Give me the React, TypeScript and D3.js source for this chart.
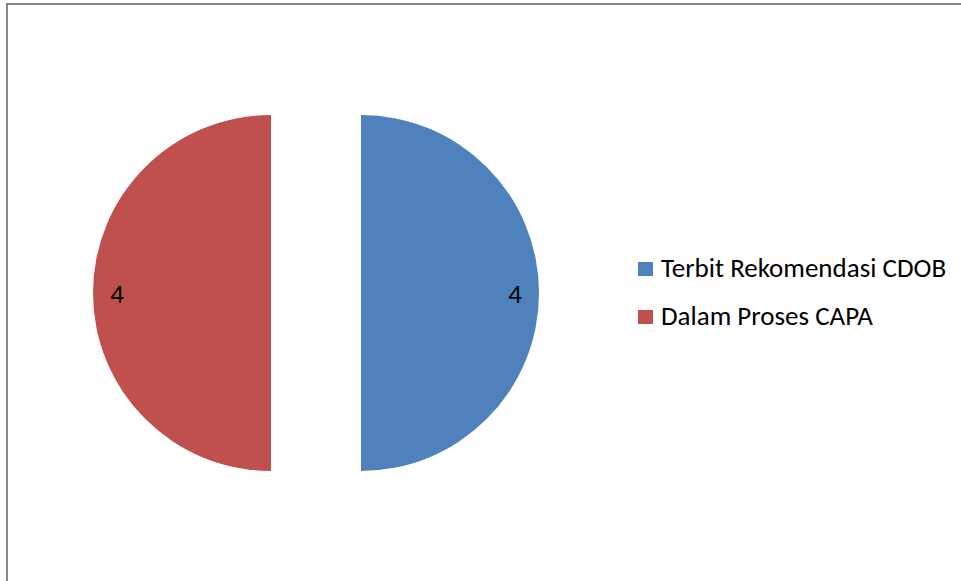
import { useEffect, useRef } from "react";
import * as d3 from "d3";

const categories = ["Terbit Rekomendasi CDOB", "Dalam Proses CAPA"];
const values = [4, 4];
const colors = ["#4F81BD", "#C0504D"];

const PieChart = () => {
  const svgRef = useRef<SVGSVGElement | null>(null);

  useEffect(() => {
    if (!svgRef.current) return;
    const svg = d3.select(svgRef.current);
    svg.selectAll("*").remove();

    const width = 961;
    const height = 581;
    const cx = 316;
    const cy = 293;
    const radius = 178;
    const explode = 45;
    const labelR = 154;
    const font = "Carlito, Lato, 'Open Sans', sans-serif";
    const fontSize = 27;

    // chart border (only left and top visible in window)
    svg
      .append("rect")
      .attr("x", 7)
      .attr("y", 4)
      .attr("width", width + 20)
      .attr("height", height + 20)
      .attr("fill", "white")
      .attr("stroke", "#868686")
      .attr("stroke-width", 2);

    const data = categories.map((c, i) => ({ name: c, value: values[i], color: colors[i] }));
    const pie = d3.pie<any>().sort(null).value((d: any) => d.value);
    const arc = d3.arc<any>().innerRadius(0).outerRadius(radius);
    const arcs = pie(data);

    const g = svg.append("g").attr("transform", `translate(${cx},${cy})`);
    arcs.forEach((a) => {
      const mid = (a.startAngle + a.endAngle) / 2;
      const dx = Math.sin(mid) * explode;
      const dy = -Math.cos(mid) * explode;
      const sg = g.append("g").attr("transform", `translate(${dx},${dy})`);
      sg.append("path").attr("d", arc(a) as string).attr("fill", a.data.color);
      sg.append("text")
        .attr("x", Math.sin(mid) * labelR)
        .attr("y", -Math.cos(mid) * labelR + 10)
        .attr("text-anchor", "middle")
        .attr("font-family", font)
        .attr("font-size", fontSize)
        .attr("fill", "#000")
        .text(a.data.value);
    });

    const legend = svg.append("g").attr("transform", "translate(638,262)");
    data.forEach((d, i) => {
      const row = legend.append("g").attr("transform", `translate(0,${i * 48})`);
      row.append("rect").attr("width", 15).attr("height", 14).attr("fill", d.color);
      row.append("text")
        .attr("x", 23)
        .attr("y", 15)
        .attr("font-family", font)
        .attr("font-size", fontSize)
        .attr("fill", "#000")
        .text(d.name);
    });
  }, []);

  return <svg ref={svgRef} width={961} height={581} style={{ display: "block" }} />;
};

export default function App() {
  return (
    <div style={{ position: "fixed", left: 0, top: 0 }}>
      <PieChart />
    </div>
  );
}
